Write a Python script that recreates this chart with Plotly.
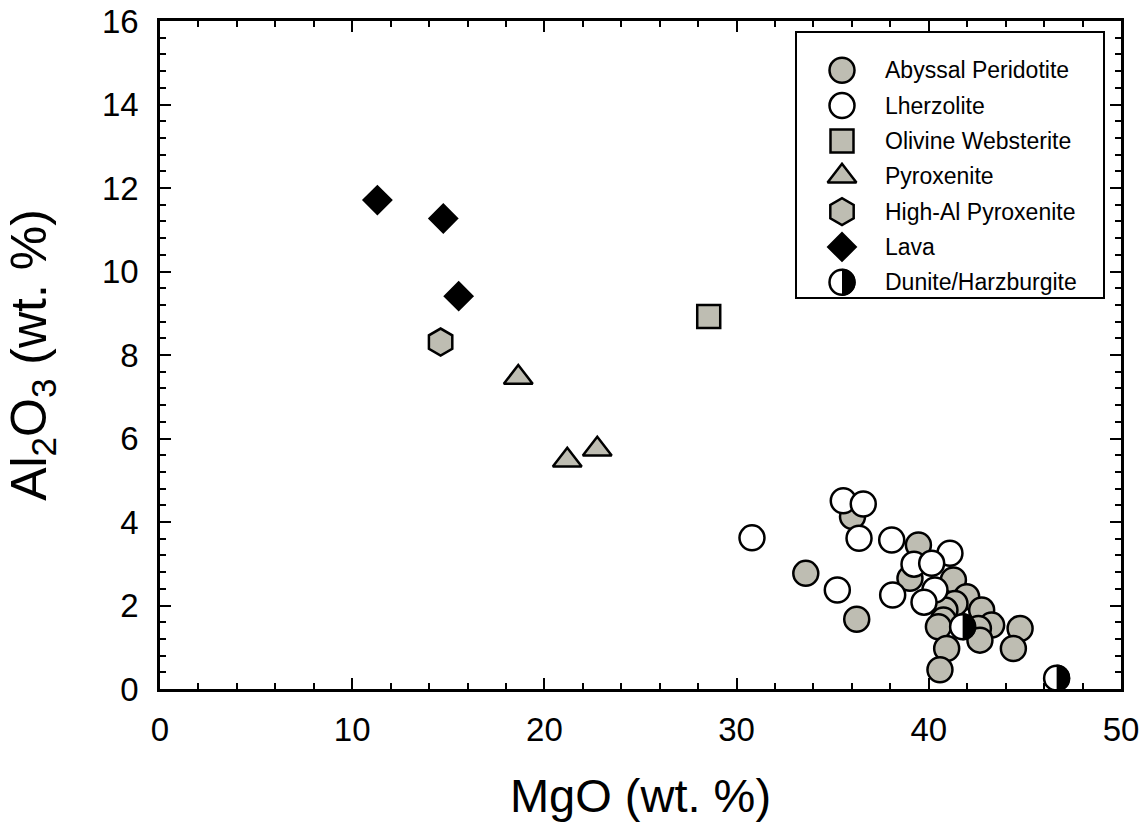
import plotly.graph_objects as go

# ---------------- data ----------------
abyssal_mgo = [36.03, 39.46, 33.60, 39.02, 41.28, 41.97, 41.36, 40.84, 40.76, 40.50,
               42.75, 43.27, 42.58, 42.66, 44.75, 44.40, 40.93, 40.58, 36.25]
abyssal_al = [4.13, 3.45, 2.77, 2.65, 2.61, 2.21, 2.05, 1.89, 1.65, 1.49,
              1.89, 1.53, 1.45, 1.17, 1.45, 0.97, 0.97, 0.46, 1.67]

lherz_mgo = [35.55, 36.59, 30.80, 36.37, 38.07, 41.10, 39.23, 40.15, 35.24, 38.12, 40.32, 39.75]
lherz_al = [4.51, 4.43, 3.62, 3.61, 3.57, 3.25, 2.99, 3.01, 2.37, 2.25, 2.37, 2.08]

olwebst_mgo = [28.55]
olwebst_al = [8.92]

pyrox_mgo = [18.64, 21.19, 22.75]
pyrox_al = [7.46, 5.48, 5.74]

highal_mgo = [14.60]
highal_al = [8.31]

lava_mgo = [11.31, 14.74, 15.54]
lava_al = [11.71, 11.27, 9.41]

dunite_mgo = [41.76, 46.65]
dunite_al = [1.49, 0.26]

legend_labels = ["Abyssal Peridotite", "Lherzolite", "Olivine Websterite", "Pyroxenite",
                 "High-Al Pyroxenite", "Lava", "Dunite/Harzburgite"]

x_ticks = [0, 10, 20, 30, 40, 50]
y_ticks = [0, 2, 4, 6, 8, 10, 12, 14, 16]

# ---------------- styling ----------------
GRAY = "#BEBDB2"
FONT = "Liberation Sans, Arial, sans-serif"
MS = 25          # marker size
LW = 2.5         # marker outline width
R_HALF = 13.6    # half-disc radius in px

styles = {
    "Abyssal Peridotite": dict(symbol="circle", color=GRAY, size=MS),
    "Lherzolite": dict(symbol="circle", color="white", size=MS),
    "Olivine Websterite": dict(symbol="square", color=GRAY, size=23),
    "Pyroxenite": dict(symbol="triangle-up", color=GRAY, size=25),
    "High-Al Pyroxenite": dict(symbol="hexagon", color=GRAY, size=27),
    "Lava": dict(symbol="diamond", color="black", size=21),
    "Dunite/Harzburgite": dict(symbol="circle", color="white", size=MS),
}

series = [
    ("Abyssal Peridotite", abyssal_mgo, abyssal_al),
    ("Lherzolite", lherz_mgo, lherz_al),
    ("Olivine Websterite", olwebst_mgo, olwebst_al),
    ("Pyroxenite", pyrox_mgo, pyrox_al),
    ("High-Al Pyroxenite", highal_mgo, highal_al),
    ("Lava", lava_mgo, lava_al),
    ("Dunite/Harzburgite", dunite_mgo, dunite_al),
]

fig = go.Figure()
for name, xs, ys in series:
    st = styles[name]
    fig.add_trace(go.Scatter(
        x=xs, y=ys, mode="markers", name=name, showlegend=False,
        marker=dict(symbol=st["symbol"], size=st["size"], color=st["color"],
                    line=dict(color="black", width=LW)),
        xaxis="x", yaxis="y", cliponaxis=False,
    ))

def half_disc_path(r):
    k = 0.5523 * r
    return (f"M0,{-r} C{k},{-r} {r},{-k} {r},0 C{r},{k} {k},{r} 0,{r} Z")

shapes = []
for xv, yv in zip(dunite_mgo, dunite_al):
    shapes.append(dict(type="path", xref="x", yref="y", xsizemode="pixel", ysizemode="pixel",
                       xanchor=xv, yanchor=yv, path=half_disc_path(R_HALF),
                       fillcolor="black", line=dict(width=0), layer="above"))

# ---------------- hand-built legend (own small axes) ----------------
box_w, box_h = 306, 264
row0, row_step = 37.5, 35.3
sym_x, txt_x = 45, 86
for i, name in enumerate(legend_labels):
    st = styles[name]
    yy = row0 + i * row_step
    fig.add_trace(go.Scatter(
        x=[sym_x], y=[yy], mode="markers", showlegend=False, hoverinfo="skip",
        marker=dict(symbol=st["symbol"], size=st["size"], color=st["color"],
                    line=dict(color="black", width=LW)),
        xaxis="x2", yaxis="y2",
    ))
    fig.add_annotation(x=txt_x, y=yy, xref="x2", yref="y2", text=name, showarrow=False,
                       xanchor="left", yanchor="middle",
                       font=dict(family=FONT, size=23, color="black"))
    if name == "Dunite/Harzburgite":
        shapes.append(dict(type="path", xref="x2", yref="y2", xsizemode="pixel",
                           ysizemode="pixel", xanchor=sym_x, yanchor=yy,
                           path=half_disc_path(R_HALF), fillcolor="black",
                           line=dict(width=0), layer="above"))

axis_common = dict(showline=True, linecolor="black", linewidth=2.5, mirror="ticks",
                   ticks="inside", ticklen=11, tickwidth=2, tickcolor="black",
                   showgrid=False, zeroline=False, automargin=False,
                   tickfont=dict(family=FONT, size=33, color="black"))

fig.update_layout(
    width=1147, height=832,
    margin=dict(l=160, r=26, t=21, b=143),
    paper_bgcolor="white", plot_bgcolor="white",
    shapes=shapes,
    xaxis=dict(range=[0, 50], tickvals=x_ticks, ticklabelstandoff=10,
               minor=dict(dtick=2, ticks="inside", ticklen=6, tickwidth=1.5, tickcolor="black"),
               title=dict(text="MgO (wt. %)", standoff=32,
                          font=dict(family=FONT, size=47, color="black")),
               **axis_common),
    yaxis=dict(range=[0, 16], tickvals=y_ticks, ticklabelstandoff=12,
               minor=dict(dtick=0.4, ticks="inside", ticklen=6, tickwidth=1.5, tickcolor="black"),
               title=dict(text="Al<sub>2</sub>O<sub>3</sub> (wt. %)", standoff=40,
                          font=dict(family=FONT, size=50, color="black")),
               **axis_common),
    xaxis2=dict(domain=[(797 - 160) / 961, (1103 - 160) / 961], range=[0, box_w],
                anchor="y2", showline=True, linecolor="black", linewidth=2, mirror=True,
                showticklabels=False, ticks="", showgrid=False, zeroline=False, fixedrange=True),
    yaxis2=dict(domain=[(689 - 297) / 668, (689 - 32.7) / 668], range=[box_h, 0],
                anchor="x2", showline=True, linecolor="black", linewidth=2, mirror=True,
                showticklabels=False, ticks="", showgrid=False, zeroline=False, fixedrange=True),
)

fig.write_html("out.html")
